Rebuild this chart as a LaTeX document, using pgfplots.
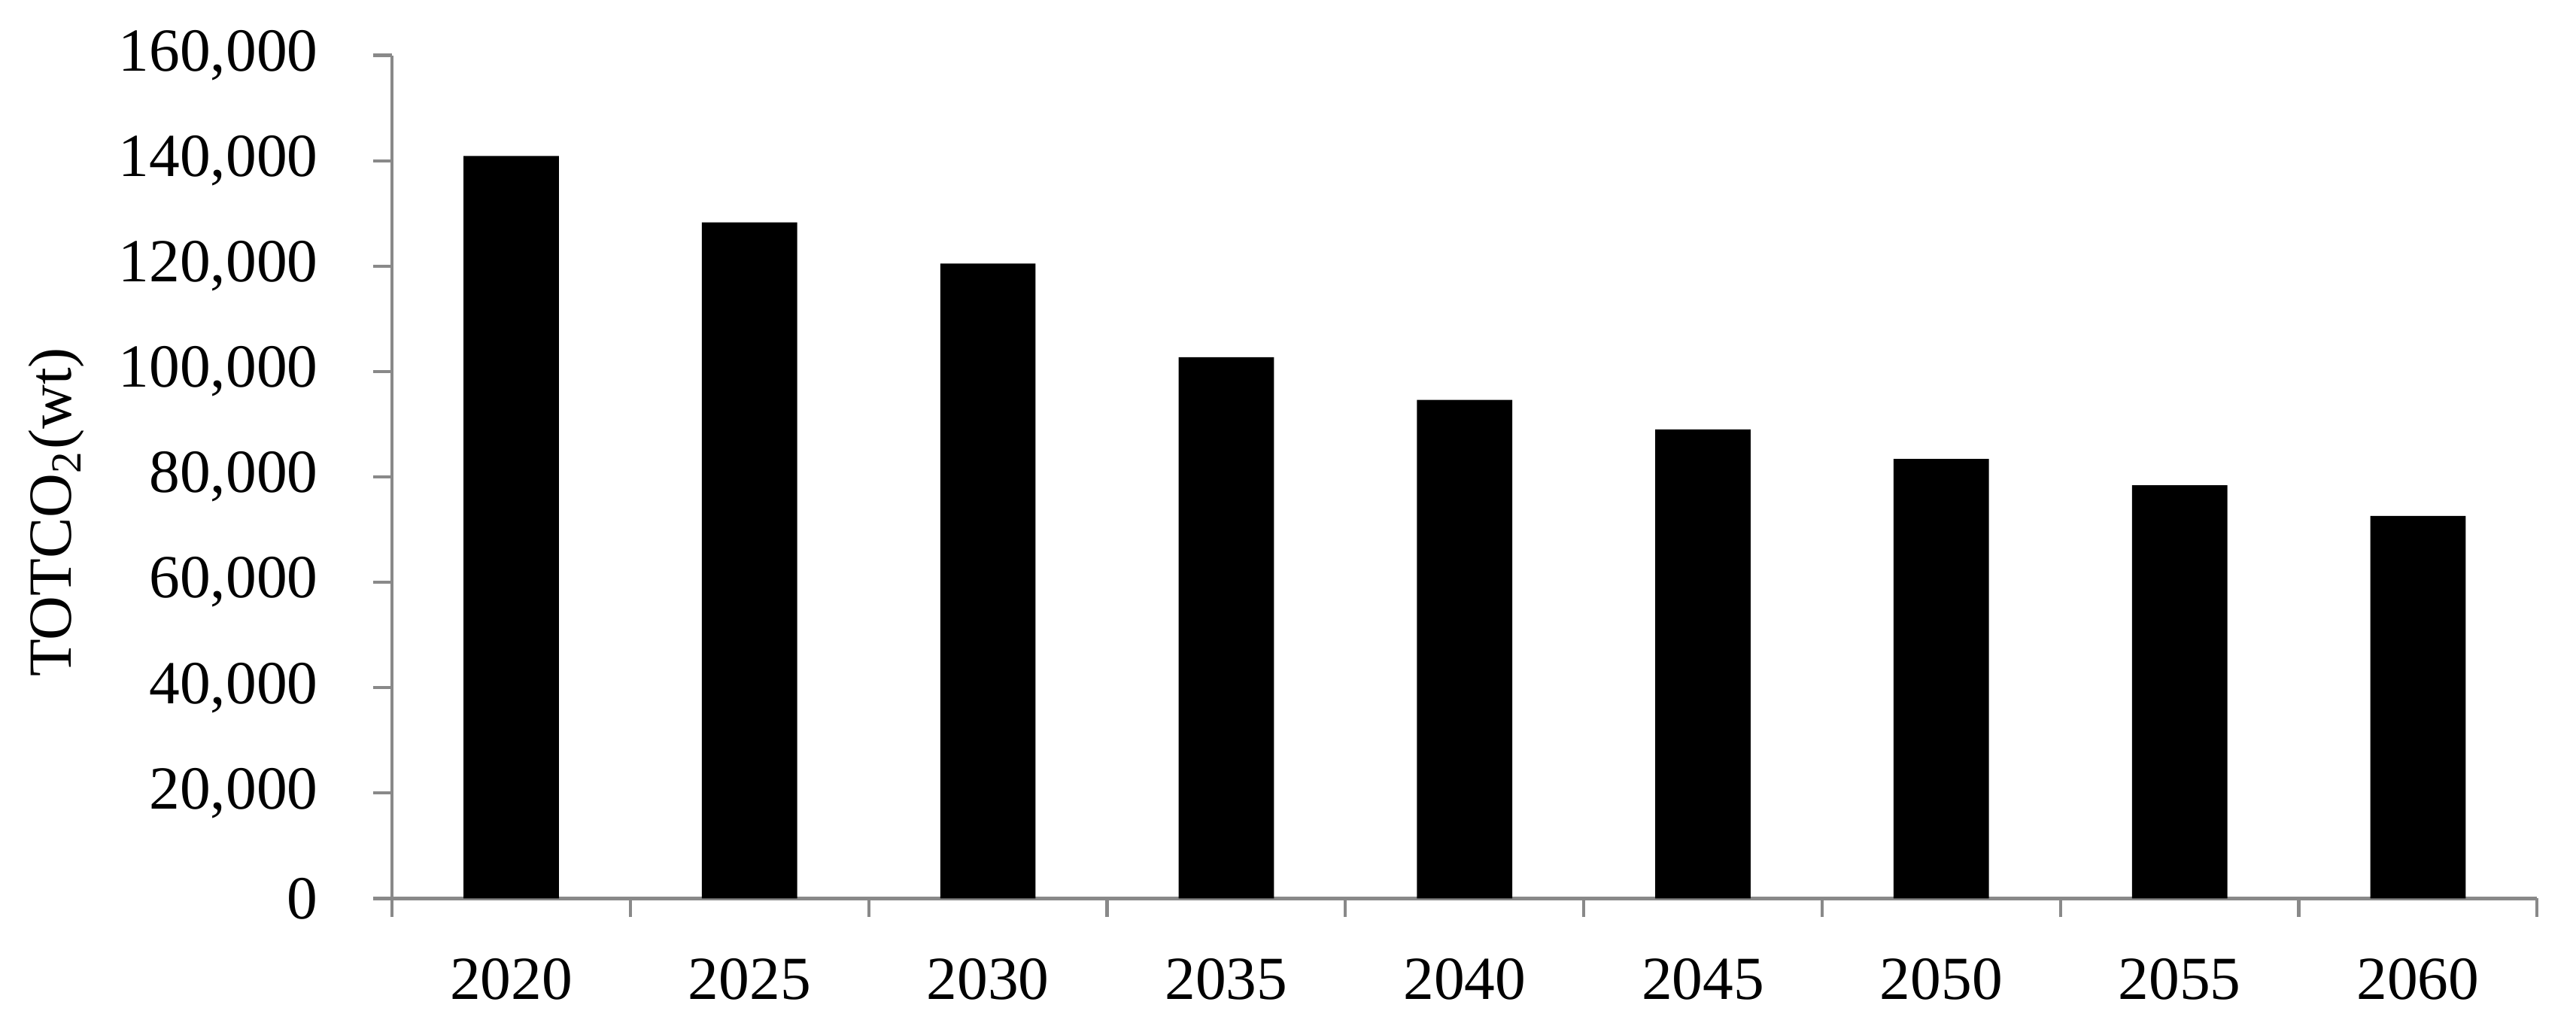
\documentclass[border=0pt]{standalone}
\usepackage{fontspec}
\setmainfont{Liberation Serif}
\usepackage{pgfplots}
\pgfplotsset{compat=1.18}
\definecolor{axisgray}{RGB}{137,137,137}
\begin{document}
\fontsize{11.5}{13.5}\selectfont
\begin{tikzpicture}
\begin{axis}[
  width=402.7pt, height=158.3pt, scale only axis,
  xmin=-0.5, xmax=8.5, ymin=0, ymax=160000,
  ytick distance=20000,
  xtick={0,...,8},
  xticklabels={2020,2025,2030,2035,2040,2045,2050,2055,2060},
  minor xtick={-0.5,0.5,...,8.5},
  major x tick style={draw=none},
  minor tick length=3.5pt,
  major tick length=3.5pt,
  tick align=outside,
  axis x line*=bottom, axis y line*=left,
  axis line style={draw=axisgray, line width=0.6pt, -},
  tick style={draw=axisgray, line width=0.6pt},
  scaled y ticks=false,
  ticklabel style={font=\fontsize{11.5}{13.5}\selectfont},
  yticklabel style={xshift=-6.4pt,
    /pgf/number format/.cd, fixed, 1000 sep={,}, assume math mode=true},
  xticklabel style={yshift=-3.8pt},
  ylabel={TOTCO\textsubscript{2}(wt)},
  % the label is turned by 90 degrees: xshift moves it up, yshift to the left
  ylabel style={font=\fontsize{11.5}{13.5}\selectfont, at={(axis description cs:0,0.5)},
    anchor=center, yshift=63pt, xshift=-6.6pt},
]
\addplot[ybar, bar width=0.4, fill=black, draw=none] coordinates {
  (0,140900) (1,128300) (2,120500) (3,102700) (4,94600)
  (5,89000) (6,83400) (7,78400) (8,72600)
};
\end{axis}
\pgfresetboundingbox
\path ([shift={(-73.6pt,-22.8pt)}]current axis.south west)
  rectangle ([shift={(7.3pt,10.4pt)}]current axis.north east);
\end{tikzpicture}
\end{document}
